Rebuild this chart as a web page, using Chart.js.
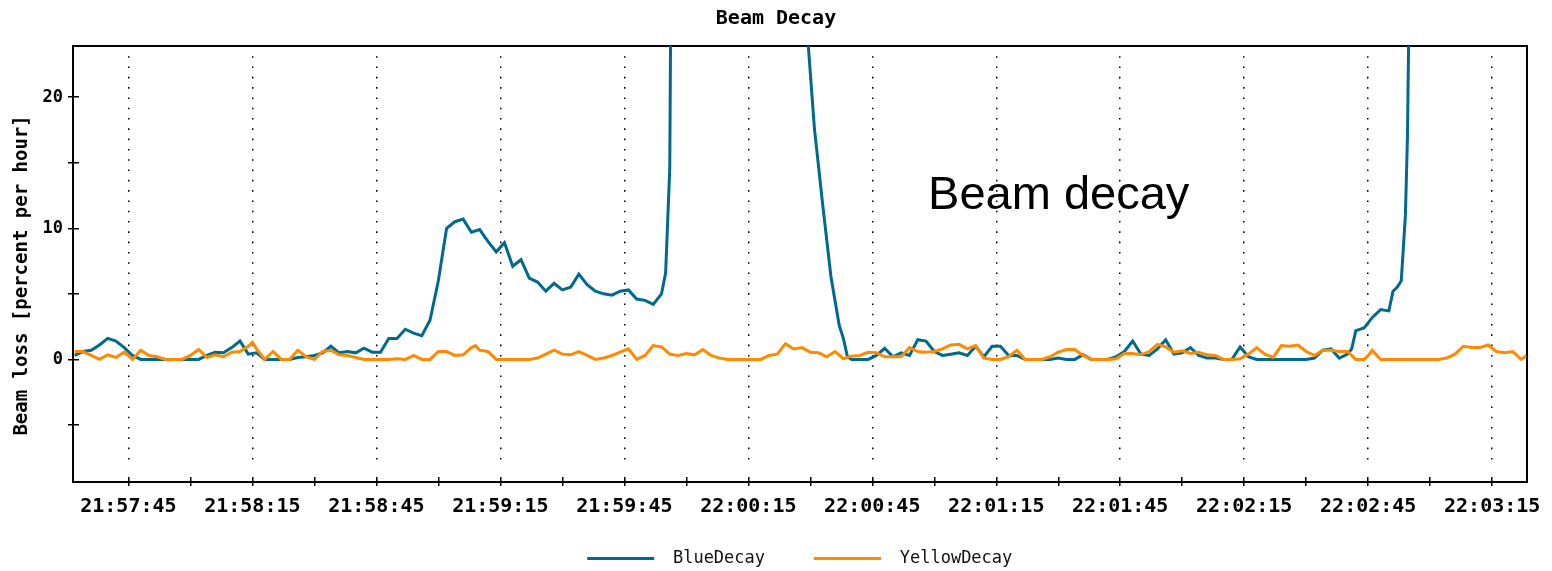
<!DOCTYPE html>
<html>
<head>
<meta charset="utf-8">
<script src="https://cdn.jsdelivr.net/npm/chart.js@4.4.1/dist/chart.umd.min.js"></script>
<style>
  html, body { margin: 0; padding: 0; background: #fff; }
  canvas { display: block; }
</style>
</head>
<body>
<canvas id="c" width="1552" height="571"></canvas>
<script>
// ---- data (times are seconds after 21:57:00) ----
const timeBase = '21:57:00';
const seriesNames = ['BlueDecay', 'YellowDecay'];

const blueTimes = [32,34,36,38,40,42,44,46,48,50,52,54,56,58,60,62,64,66,68,70,72,74,76,78,80,82,84,86,88,90,92,94,96,98,100,102,104,106,108,110,112,114,116,118,120,122,124,126,128,130,132,134,136,138,140,142,144,146,148,150,152,154,156,158,160,162,164,166,168,170,172,174,175,175.5,176,176.5,180,190,200,208,209.5,211,213,215,217,218,219,220,222,224,226,228,230,232,234,236,238,240,242,244,246,248,250,252,254,256,258,260,262,264,266,268,270,272,274,276,278,280,282,284,286,288,290,292,294,296,298,300,302,304,306,308,310,312,314,316,318,320,322,324,326,328,330,332,334,336,338,340,341,342,344,346,348,350,351,352,353,354,354.5,355,360,370,384];
const blueValues = [0.3,0.6,0.7,1.1,1.6,1.4,0.9,0.3,0,0,0,0,0,0,0,0,0.3,0.55,0.5,0.9,1.4,0.4,0.5,0,0,0,0,0.15,0.2,0.3,0.5,1.0,0.5,0.6,0.5,0.85,0.55,0.55,1.6,1.6,2.3,2.0,1.8,3.0,6.0,10.0,10.5,10.7,9.7,9.9,9.0,8.2,8.9,7.1,7.6,6.2,5.9,5.2,5.8,5.3,5.5,6.5,5.7,5.2,5.0,4.9,5.2,5.3,4.6,4.5,4.2,5.0,6.6,10.6,14.6,40,60,70,70,45,24,17.6,11.8,6.3,2.6,1.6,0.2,0,0,0,0.3,0.85,0.2,0.5,0.3,1.5,1.4,0.6,0.3,0.4,0.5,0.3,1.0,0.2,1.0,1.0,0.3,0.3,0,0,0,0,0.1,0,0,0.35,0,0,0,0.2,0.6,1.4,0.4,0.3,0.8,1.5,0.4,0.5,0.9,0.3,0.1,0.1,0,0,0.95,0.2,0,0,0,0,0,0,0,0.1,0.7,0.8,0.1,0.4,0.8,2.2,2.4,3.2,3.8,3.7,5.2,5.5,6.0,11,17,30,45,60,70];

const yellowTimes = [32,34,36,38,40,42,44,46,48,50,52,54,56,58,60,62,64,66,68,70,72,74,75,76,78,80,82,84,86,88,90,92,94,96,98,100,102,104,106,108,110,112,114,116,118,120,122,124,126,128,129,130,132,134,136,138,140,142,144,146,148,150,152,154,156,158,160,162,164,166,168,170,172,174,176,178,180,182,184,186,188,190,192,194,196,198,200,202,204,206,208,210,212,214,216,218,220,222,224,226,228,230,232,234,236,238,240,242,244,246,248,250,252,254,256,258,260,262,264,266,268,270,272,274,276,278,280,282,284,286,288,290,292,294,296,298,300,302,304,306,308,310,312,314,316,318,320,322,324,326,328,330,332,334,336,338,340,342,344,345,346,348,350,352,354,356,358,360,362,364,366,368,370,372,374,376,378,380,382,383.3];
const yellowValues = [0.6,0.6,0.3,0,0.35,0.15,0.55,0,0.7,0.3,0.2,0,0,0,0.3,0.75,0.15,0.35,0.2,0.55,0.6,1.0,1.3,0.8,0,0.6,0,0,0.7,0.2,0,0.6,0.7,0.35,0.3,0.15,0,0,0,0,0.05,0,0.3,0,0,0.6,0.6,0.3,0.35,0.9,1.05,0.7,0.6,0,0,0,0,0,0.1,0.4,0.7,0.4,0.35,0.6,0.3,0,0.1,0.3,0.55,0.8,0,0.3,1.05,0.95,0.4,0.3,0.45,0.35,0.75,0.3,0.1,0,0,0,0,0,0.3,0.4,1.2,0.8,0.9,0.55,0.5,0.2,0.6,0.05,0.25,0.3,0.55,0.5,0.2,0.2,0.2,0.9,0.6,0.55,0.6,0.8,1.1,1.15,0.8,1.05,0.1,0,0,0.2,0.7,0,0,0,0.2,0.55,0.75,0.75,0.3,0,0,0,0.05,0.45,0.45,0.35,0.6,1.15,0.95,0.55,0.65,0.45,0.55,0.35,0.3,0,0,0.05,0.4,0.9,0.4,0.15,1.05,1.0,1.1,0.6,0.3,0.7,0.7,0.6,0.6,0,0,0.3,0.7,0,0,0,0,0,0,0,0,0.1,0.4,1.0,0.9,0.9,1.1,0.6,0.5,0.6,0,0.3];

// axis ticks
const xTickLabels = ['21:57:45','21:58:15','21:58:45','21:59:15','21:59:45','22:00:15','22:00:45','22:01:15','22:01:45','22:02:15','22:02:45','22:03:15'];
const xMinorTickLabels = ['21:58:00','21:58:30','21:59:00','21:59:30','22:00:00','22:00:30','22:01:00','22:01:30','22:02:00','22:02:30','22:03:00'];
const xRange = ['21:57:31.6', '22:03:23.3'];
const yTickValues = [-5, 0, 5, 10, 15, 20];
const yTickLabels = ['0', '10', '20'];
const yRange = [-9.35, 23.9];

const annotationText = 'Beam decay';
const annotationAt = ['22:00:58.5', 11.5];

// ---- helpers ----
function toSec(str) {
  const p = str.split(':').map(Number);
  const b = timeBase.split(':').map(Number);
  return (p[0] * 3600 + p[1] * 60 + p[2]) - (b[0] * 3600 + b[1] * 60 + b[2]);
}
const majorVals = xTickLabels.map(toSec);
const minorVals = xMinorTickLabels.map(toSec);
const allXTicks = majorVals.concat(minorVals).sort((a, b) => a - b);
const majorLabelOf = {};
xTickLabels.forEach(l => { majorLabelOf[toSec(l)] = l; });

const MONO = "'DejaVu Sans Mono', monospace";
const BLUE = '#006a8e';
const ORANGE = '#ff8a00';

function dottedDash(L) {
  const arr = [0, 10.2];
  let pos = 10.2;
  while (pos + 10.3 < L - 4) { arr.push(1.6, 8.7); pos += 10.3; }
  arr.push(0, Math.max(0, (L - 5) - pos));
  arr.push(5, 1000);
  return arr;
}

const annotationPlugin = {
  id: 'beamDecayLabel',
  afterDatasetsDraw(chart) {
    const { ctx, scales } = chart;
    ctx.save();
    ctx.font = "47px 'Liberation Sans', Arial, sans-serif";
    ctx.fillStyle = '#000';
    ctx.textAlign = 'left';
    ctx.textBaseline = 'alphabetic';
    ctx.fillText(annotationText, scales.x.getPixelForValue(toSec(annotationAt[0])), scales.y.getPixelForValue(annotationAt[1]));
    ctx.restore();
  }
};

const ctx = document.getElementById('c').getContext('2d');
new Chart(ctx, {
  type: 'line',
  data: {
    datasets: [
      { label: seriesNames[0], data: blueTimes.map((t, i) => ({ x: t, y: blueValues[i] })),
        borderColor: BLUE, backgroundColor: BLUE, borderWidth: 3, pointRadius: 0, tension: 0, order: 1 },
      { label: seriesNames[1], data: yellowTimes.map((t, i) => ({ x: t, y: yellowValues[i] })),
        borderColor: ORANGE, backgroundColor: ORANGE, borderWidth: 3, pointRadius: 0, tension: 0, order: 0 }
    ]
  },
  options: {
    responsive: false,
    animation: false,
    devicePixelRatio: 1,
    layout: { padding: { left: 0, right: 0, top: 0, bottom: 0 } },
    plugins: {
      tooltip: { enabled: false },
      title: {
        display: true, text: 'Beam Decay', color: '#000',
        font: { family: MONO, size: 20, weight: 'bold' },
        padding: { top: 7, bottom: 15 }
      },
      legend: {
        display: true, position: 'bottom', fullSize: false, maxHeight: 29,
        labels: {
          font: { family: MONO, size: 17 }, color: '#111',
          boxWidth: 67, boxHeight: 3, padding: 8,
          generateLabels(chart) {
            return chart.data.datasets.map((ds, i) => ({
              text: (i === 0 ? ' ' + ds.label + '    ' : ' ' + ds.label),
              fillStyle: ds.borderColor, strokeStyle: ds.borderColor, lineWidth: 0,
              hidden: false, datasetIndex: i, fontColor: '#111'
            }));
          }
        }
      }
    },
    scales: {
      x: {
        type: 'linear', position: 'bottom', bounds: 'data',
        min: toSec(xRange[0]), max: toSec(xRange[1]),
        afterBuildTicks: s => { s.ticks = allXTicks.map(v => ({ value: v })); },
        afterFit: s => { s.height = 60; },
        ticks: {
          autoSkip: false, maxRotation: 0, minRotation: 0, padding: 9,
          color: '#000', font: { family: MONO, size: 20, weight: 'bold' },
          callback: v => majorLabelOf[v] || ''
        },
        grid: {
          drawOnChartArea: true, drawTicks: true, tickLength: 4,
          color: '#000', lineWidth: 1.5, tickColor: '#000', tickWidth: 1.5
        },
        border: {
          display: true, color: '#000', width: 2,
          dash: c => {
            const a = c.chart.chartArea;
            const L = a ? a.bottom - a.top : 435;
            return (c.tick && majorLabelOf[c.tick.value]) ? dottedDash(L) : [0, L - 5, 5, 1000];
          }
        }
      },
      x2: {
        type: 'linear', position: 'top', min: 0, max: 1,
        ticks: { display: false }, grid: { display: false, drawTicks: false },
        border: { display: true, color: '#000', width: 2 },
        afterFit: s => { s.height = 0; }
      },
      y: {
        type: 'linear', position: 'left', bounds: 'data',
        min: yRange[0], max: yRange[1],
        afterBuildTicks: s => { s.ticks = yTickValues.map(v => ({ value: v })); },
        afterFit: s => { s.width = 73; },
        ticks: {
          padding: 5, color: '#000', font: { family: MONO, size: 17, weight: 'bold' },
          callback: v => (yTickLabels.indexOf(String(v)) >= 0 ? String(v) : '')
        },
        grid: {
          drawOnChartArea: true, drawTicks: true, tickLength: 5,
          color: '#000', lineWidth: 1.5, tickColor: '#000', tickWidth: 1.5
        },
        border: { display: true, color: '#000', width: 2, dash: [5, 5000] },
        title: {
          display: true, text: 'Beam loss [percent per hour]  ', color: '#000',
          font: { family: MONO, size: 19, weight: 'bold' },
          padding: { top: 11, bottom: 0 }
        }
      },
      y2: {
        type: 'linear', position: 'right', min: 0, max: 1,
        ticks: { display: false }, grid: { display: false, drawTicks: false },
        border: { display: true, color: '#000', width: 2 },
        afterFit: s => { s.width = 25.5; }
      }
    }
  },
  plugins: [annotationPlugin]
});
</script>
</body>
</html>
